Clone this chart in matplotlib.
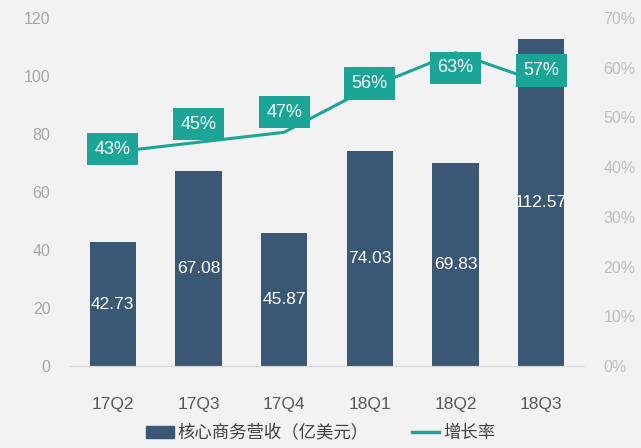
import matplotlib.pyplot as plt
from matplotlib.patches import Patch
from matplotlib.lines import Line2D

plt.rcParams['font.family'] = ['Liberation Sans', 'Noto Sans CJK SC', 'DejaVu Sans']

quarters = ['17Q2', '17Q3', '17Q4', '18Q1', '18Q2', '18Q3']
revenue = [42.73, 67.08, 45.87, 74.03, 69.83, 112.57]
growth = [43, 45, 47, 56, 63, 57]

# vertical shift of the % labels relative to the line point (pixels)
label_shift = [3, 18, 20, 4, -15, 12]

bar_color = '#3a5775'
line_color = '#1aa597'
bg = '#f2f2f2'

fig = plt.figure(figsize=(6.41, 4.48), dpi=100, facecolor=bg)
ax = fig.add_axes([0.109, 0.183, 0.802, 0.777], facecolor=bg)
x = range(len(quarters))
ax.bar(x, revenue, width=0.54, color=bar_color, zorder=2)
for i, v in enumerate(revenue):
    ax.text(i, v / 2, f'{v:.2f}', color='white', ha='center', va='center', fontsize=12.5, zorder=3)

ax.set_xlim(-0.5, len(quarters) - 0.5)
ax.set_ylim(0, 120)
ax.set_yticks(range(0, 121, 20))
ax.set_xticks(list(x))
ax.set_xticklabels(quarters, fontsize=12.5, color='#595959')
ax.tick_params(axis='x', length=0, pad=22)
ax.tick_params(axis='y', length=0, labelsize=11.5, labelcolor='#a6a6a6', pad=14)
for s in ['top', 'right', 'left']:
    ax.spines[s].set_visible(False)
ax.spines['bottom'].set_color('#d9d9d9')

ax2 = ax.twinx()
ax2.plot(x, growth, color=line_color, lw=2.2, zorder=4)
for i, g in enumerate(growth):
    ax2.annotate(f'{g}%', (i, g), xytext=(0, label_shift[i]), textcoords='offset pixels',
                 color='white', ha='center', va='center', fontsize=13,
                 bbox=dict(boxstyle='square,pad=0.42', fc=line_color, ec='none'), zorder=5)
ax2.set_ylim(0, 70)
ax2.set_yticks(range(0, 71, 10))
ax2.set_yticklabels([f'{t}%' for t in range(0, 71, 10)])
ax2.tick_params(axis='y', length=0, labelsize=11.5, labelcolor='#bfbfbf', pad=14)
for s in ['top', 'right', 'left', 'bottom']:
    ax2.spines[s].set_visible(False)

handles = [Patch(color=bar_color), Line2D([0], [0], color=line_color, lw=2.5)]
fig.legend(handles, ['核心商务营收（亿美元）', '增长率'], loc='center', bbox_to_anchor=(0.5, 0.035),
           ncol=2, frameon=False, fontsize=12.5, labelcolor='#404040', handlelength=1.6,
           handletextpad=0.2, columnspacing=2.5)

fig.savefig('out.png', dpi=100, facecolor=bg)
